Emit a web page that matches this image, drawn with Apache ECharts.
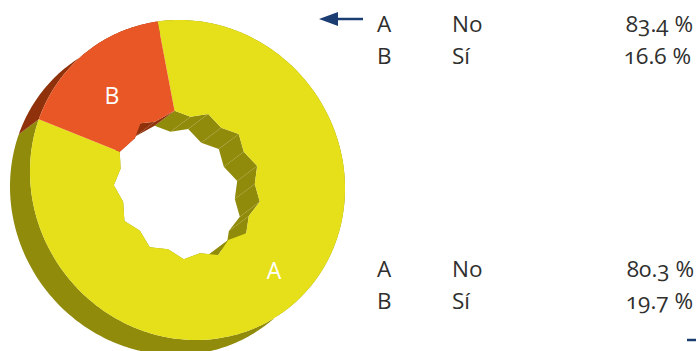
<!DOCTYPE html>
<html lang="en">

<head>
  <meta charset="UTF-8">
  <title>Donut 3D</title>
  <script src="https://cdn.jsdelivr.net/npm/echarts@6/dist/echarts.min.js"></script>
  <style>
    html, body { margin: 0; padding: 0; background: #fff; }
    /* old-style figures, the svg renderer gives real text nodes */
    #chart text { font-feature-settings: "onum" !important; }
  </style>
</head>

<body>
  <div id="chart" style="width: 696px; height: 351px;"></div>

  <script>
    var categories = ['A', 'B'];
    var answers = ['No', 'Sí'];
    var valuesTop = [83.4, 16.6];
    var valuesBottom = [80.3, 19.7];

    // jagged hole: angle clockwise from 12 o'clock, radius
    var holeAngles = [349.4, 2.7, 17.4, 32.8, 48.1, 63.3, 78.6, 93.4, 106.7, 120.4, 132.2, 145.8, 157.7,
      170.5, 182.7, 195.6, 209.3, 223.2, 237, 251.4, 265.9, 279.6, 292.7, 308.4, 320.3, 330.7];
    var holeRadii = [70.5, 63.4, 69.2, 62.2, 68.9, 63, 71.1, 67.4, 75.5, 71.1, 79.3, 72.5, 81,
      74.3, 79.4, 71.9, 77.1, 69.6, 75.2, 67.9, 73.9, 67.9, 73.4, 67.2, 73.6, 66.8];
    var holeSplit = 22; // vertex where slice A hands over to slice B

    var topColors = ['#e6e01a', '#e95727'];
    var sideColors = ['#918b0c', '#8f320b'];
    var textColor = '#2f2f2e';
    var arrowColor = '#1b3d72';
    var fontName = '"Open Sans"';

    // tilted disc
    var cx = 187.5, cy = 180, rx = 163.1, ry = 154.3, tilt = 53.2 * Math.PI / 180;
    var depthX = -20, depthY = 15;
    var startT = -152.6;

    var total = valuesTop.reduce(function (a, b) { return a + b; }, 0);

    function rimPoint(deg, dx, dy) {
      var t = deg * Math.PI / 180;
      var u = rx * Math.cos(t), v = ry * Math.sin(t);
      return [
        cx + u * Math.cos(tilt) - v * Math.sin(tilt) + dx,
        cy + u * Math.sin(tilt) + v * Math.cos(tilt) + dy
      ];
    }

    function holePoint(i, dx, dy) {
      var a = holeAngles[i % holeAngles.length] * Math.PI / 180;
      var r = holeRadii[i % holeAngles.length];
      return [cx + r * Math.sin(a) + dx, cy - r * Math.cos(a) + dy];
    }

    // outer arc of a slice, one point every degree
    function arc(index, dx, dy) {
      var before = 0;
      for (var i = 0; i < index; i++) before += valuesTop[i];
      var from = startT + before / total * 360;
      var to = from + valuesTop[index] / total * 360;
      var pts = [];
      for (var d = from; d < to; d += 1) pts.push(rimPoint(d, dx, dy));
      pts.push(rimPoint(to, dx, dy));
      return pts;
    }

    function holeIndexes(index) {
      var list = [];
      var from = index === 0 ? 0 : holeSplit;
      var to = index === 0 ? holeSplit : holeAngles.length;
      for (var i = from; i <= to; i++) list.push(i);
      return list;
    }

    function toPixels(api, pts) {
      return pts.map(function (p) { return api.coord(p); });
    }

    function renderRim(params, api) {
      var i = params.dataIndex;
      var pts = arc(i, 0, 0).concat(arc(i, depthX, depthY).reverse());
      return { type: 'polygon', shape: { points: toPixels(api, pts) }, style: { fill: sideColors[i] } };
    }

    function renderHole(params, api) {
      var pts = holeAngles.map(function (a, i) { return holePoint(i, 0, 0); });
      return { type: 'polygon', shape: { points: toPixels(api, pts) }, style: { fill: '#fff' } };
    }

    function renderWall(params, api) {
      var i = params.dataIndex;
      var idx = holeIndexes(i);
      var children = [];
      for (var k = 0; k < idx.length - 1; k++) {
        var pts = [holePoint(idx[k], 0, 0), holePoint(idx[k + 1], 0, 0),
          holePoint(idx[k + 1], depthX, depthY), holePoint(idx[k], depthX, depthY)];
        children.push({ type: 'polygon', shape: { points: toPixels(api, pts) }, style: { fill: sideColors[i] } });
      }
      return { type: 'group', children: children };
    }

    function renderTop(params, api) {
      var i = params.dataIndex;
      var inner = holeIndexes(i).map(function (k) { return holePoint(k, 0, 0); }).reverse();
      var pts = arc(i, 0, 0).concat(inner);
      return { type: 'polygon', shape: { points: toPixels(api, pts) }, style: { fill: topColors[i] } };
    }

    function layer(render, z, data) {
      return { type: 'custom', renderItem: render, z: z, silent: true, data: data, clip: false };
    }

    function tableText(values, y1, y2, rightEdges) {
      var out = [];
      [y1, y2].forEach(function (y, i) {
        out.push(cell(377, y, categories[i], 'left'));
        out.push(cell(452, y, answers[i], 'left'));
        out.push(cell(rightEdges[i], y, values[i].toFixed(1) + ' %', 'right'));
      });
      return out;
    }

    function cell(x, y, text, align) {
      return {
        type: 'text', x: x, y: y, z: 10,
        style: { text: text, fill: textColor, font: '22.5px ' + fontName, textAlign: align, textVerticalAlign: 'middle' }
      };
    }

    function sliceLabel(x, y, text) {
      return {
        type: 'text', x: x, y: y, z: 10,
        style: { text: text, fill: '#fff', font: '23px ' + fontName, textAlign: 'center', textVerticalAlign: 'middle' }
      };
    }

    var sliceData = categories.map(function (c, i) { return [i, valuesTop[i]]; });

    var myChart = echarts.init(document.getElementById('chart'), null, { renderer: 'svg' });

    myChart.setOption({
      animation: false,
      grid: { left: 0, right: 0, top: 0, bottom: 0 },
      xAxis: { type: 'value', min: 0, max: 696, show: false },
      yAxis: { type: 'value', min: 0, max: 351, inverse: true, show: false },
      graphic: [
        sliceLabel(112, 95, categories[1]),
        sliceLabel(274, 270, categories[0]),
        { type: 'line', z: 10, shape: { x1: 334, y1: 19, x2: 363, y2: 19 }, style: { stroke: arrowColor, lineWidth: 2.5 } },
        { type: 'polygon', z: 10, shape: { points: [[319, 19], [338, 12], [338, 26]] }, style: { fill: arrowColor } },
        { type: 'line', z: 10, shape: { x1: 687, y1: 340, x2: 696, y2: 340 }, style: { stroke: arrowColor, lineWidth: 2.5 } }
      ].concat(tableText(valuesTop, 23, 55, [693, 691]), tableText(valuesBottom, 268, 300, [694, 693])),
      series: [
        layer(renderRim, 1, sliceData),
        layer(renderHole, 2, [[0, 0]]),
        layer(renderWall, 3, sliceData),
        layer(renderTop, 4, sliceData)
      ]
    });
  </script>
</body>

</html>
